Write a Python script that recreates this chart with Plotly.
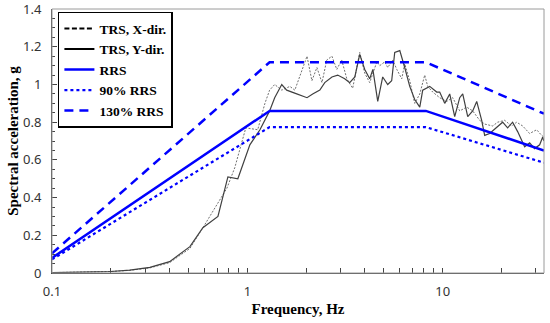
import plotly.graph_objects as go

# ---------------- data ----------------
rrs_freq = [0.1, 1.3, 8.2, 33.0]
rrs_val = [0.08, 0.86, 0.86, 0.65]
rrs90_val = [0.072, 0.774, 0.774, 0.585]
rrs130_val = [0.104, 1.118, 1.118, 0.845]

trs_x_freq = [0.1, 0.15, 0.2, 0.25, 0.3, 0.317, 0.40, 0.508, 0.592, 0.786, 0.863, 0.982,
              1.13, 1.23, 1.30, 1.38, 1.50, 1.65, 1.75, 1.81, 2.02, 2.14, 2.27, 2.41,
              2.55, 2.71, 2.87, 3.04, 3.23, 3.46, 3.76, 3.99, 4.23, 4.60, 4.76, 5.05,
              5.23, 5.55, 5.82, 6.17, 6.39, 6.78, 7.19, 7.63, 8.09, 8.38, 8.89, 9.65,
              10.48, 11.25, 12.22, 13.27, 14.24, 15.46, 16.4, 18.03, 19.11, 20.76, 22.54,
              23.90, 25.66, 27.86, 30.26, 32.1, 33.0]
trs_x_val = [0.002, 0.004, 0.008, 0.014, 0.022, 0.027, 0.055, 0.13, 0.24, 0.45, 0.56, 0.77,
             0.76, 0.90, 0.97, 1.00, 0.97, 0.99, 0.97, 1.01, 1.15, 1.02, 1.09, 1.01,
             1.13, 1.15, 1.08, 1.13, 1.03, 0.98, 1.17, 1.06, 1.01, 1.12, 1.10, 1.12,
             1.09, 1.13, 1.08, 1.03, 1.11, 1.02, 0.90, 0.95, 1.05, 0.99, 0.96, 0.93,
             0.91, 0.93, 0.86, 0.88, 0.86, 0.81, 0.79, 0.78, 0.80, 0.81, 0.78,
             0.80, 0.78, 0.74, 0.76, 0.73, 0.72]

trs_y_freq = [0.1, 0.15, 0.2, 0.25, 0.3, 0.317, 0.40, 0.508, 0.592, 0.707, 0.795, 0.894,
              1.03, 1.16, 1.30, 1.38, 1.50, 1.59, 1.79, 2.02, 2.16, 2.35, 2.49, 2.71,
              2.90, 3.15, 3.34, 3.55, 3.76, 3.99, 4.23, 4.39, 4.65, 4.93, 5.23, 5.48,
              5.68, 6.03, 6.39, 6.78, 7.19, 7.63, 7.90, 8.58, 9.32, 9.65, 10.24, 10.86,
              11.52, 12.22, 12.66, 13.43, 14.24, 14.93, 15.83, 16.40, 17.39, 18.89, 20.27,
              21.5, 22.8, 24.19, 26.27, 27.86, 29.55, 31.35, 32.47, 33.0]
trs_y_val = [0.002, 0.004, 0.008, 0.015, 0.025, 0.03, 0.06, 0.14, 0.24, 0.30, 0.51, 0.50,
             0.68, 0.76, 0.86, 0.93, 1.00, 0.97, 0.95, 0.93, 0.95, 0.97, 1.01, 1.04,
             1.05, 1.03, 1.01, 1.04, 1.16, 1.08, 1.03, 1.08, 0.91, 1.04, 1.00, 1.02,
             1.17, 1.18, 1.09, 0.99, 0.92, 0.88, 0.97, 0.99, 0.96, 0.96, 0.90, 0.95,
             0.83, 0.93, 0.95, 0.83, 0.86, 0.91, 0.81, 0.73, 0.74, 0.77, 0.80,
             0.77, 0.80, 0.75, 0.67, 0.69, 0.66, 0.68, 0.72, 0.70]

x_tick_vals = [0.1, 0.2, 0.3, 0.4, 0.5, 0.6, 0.7, 0.8, 0.9, 1, 2, 3, 4, 5, 6, 7, 8, 9, 10, 20, 30]
x_tick_text = ["0.1", "", "", "", "", "", "", "", "", "1", "", "", "", "", "", "", "", "", "10", "", ""]
y_tick_vals = [0, 0.2, 0.4, 0.6, 0.8, 1.0, 1.2, 1.4]
y_tick_text = ["0", "0.2", "0.4", "0.6", "0.8", "1", "1.2", "1.4"]

BLUE = "#0000FF"
serif = "Liberation Serif"

fig = go.Figure()

# actual curves
fig.add_trace(go.Scatter(x=trs_x_freq, y=trs_x_val, mode="lines", showlegend=False,
                         line=dict(color="#707070", width=1, dash="2px,1.5px")))
fig.add_trace(go.Scatter(x=trs_y_freq, y=trs_y_val, mode="lines", showlegend=False,
                         line=dict(color="#404040", width=1.2)))

# legend entries for TRS curves
fig.add_trace(go.Scatter(x=[None], y=[None], mode="lines", name="<b>TRS, X-dir.</b>",
                         line=dict(color="black", width=2, dash="5px,2.5px")))
fig.add_trace(go.Scatter(x=[None], y=[None], mode="lines", name="<b>TRS, Y-dir.</b>",
                         line=dict(color="black", width=2)))

fig.add_trace(go.Scatter(x=rrs_freq, y=rrs_val, mode="lines", name="<b>RRS</b>",
                         line=dict(color=BLUE, width=2.5)))
fig.add_trace(go.Scatter(x=rrs_freq, y=rrs90_val, mode="lines", name="<b>90% RRS</b>",
                         line=dict(color=BLUE, width=2.2, dash="dot")))
fig.add_trace(go.Scatter(x=rrs_freq, y=rrs130_val, mode="lines", name="<b>130% RRS</b>",
                         line=dict(color=BLUE, width=2.5, dash="9px,6px")))

fig.update_layout(
    width=550, height=323,
    margin=dict(l=52, r=6, t=9, b=50, autoexpand=False),
    paper_bgcolor="white", plot_bgcolor="white",
    showlegend=True,
    legend=dict(x=0.012, y=0.99, xanchor="left", yanchor="top",
                bgcolor="white", bordercolor="black", borderwidth=1.5,
                font=dict(family=serif, size=13.5, color="black"),
                tracegroupgap=0),
    shapes=[dict(type="rect", xref="paper", yref="paper", x0=0, y0=0, x1=1, y1=1,
                 line=dict(color="#9a9a9a", width=1), layer="above")],
)
fig.update_xaxes(type="log", range=[-1, 1.5185], tickvals=x_tick_vals, ticktext=x_tick_text,
                 ticks="inside", ticklen=5, tickcolor="#444", showgrid=False, zeroline=False,
                 showline=True, linecolor="#444", linewidth=1, ticklabeloverflow="allow",
                 automargin=False, ticklabelstandoff=6,
                 tickfont=dict(family="Noto Sans", size=13, color="#333"),
                 title=dict(text="<b>Frequency, Hz</b>", font=dict(family=serif, size=15, color="black"),
                            standoff=4))
fig.update_yaxes(range=[0, 1.4005], tickvals=y_tick_vals, ticktext=y_tick_text,
                 ticks="inside", ticklen=5, tickcolor="#444", showgrid=False, zeroline=False,
                 showline=True, linecolor="#444", linewidth=1, ticklabelstandoff=7,
                 ticklabeloverflow="allow", automargin=False,
                 minor=dict(ticks="inside", ticklen=3, dtick=0.05, tickcolor="#444"),
                 tickfont=dict(family="Noto Sans", size=13, color="#333"),
                 title=dict(text="<b>Spectral acceleration, g</b>", font=dict(family=serif, size=15, color="black"),
                            standoff=0))

fig.write_html("out.html", config={"displayModeBar": False},
               post_script="document.body.style.margin='0';document.body.style.overflow='hidden';")
